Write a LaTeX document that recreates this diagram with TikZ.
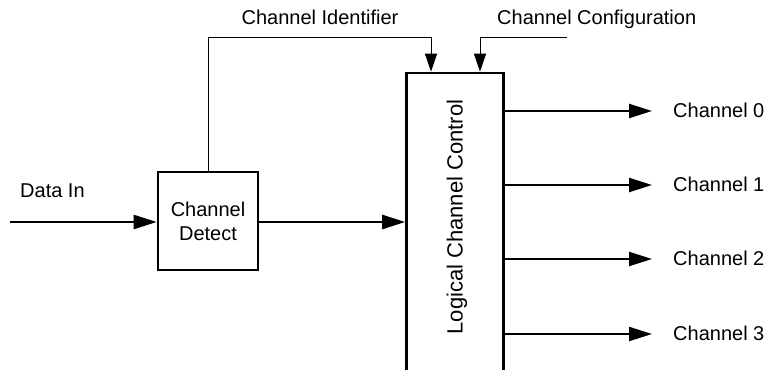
\documentclass[tikz,border=0pt]{standalone}
\usepackage{fontspec}
\setmainfont{Liberation Sans}
\usetikzlibrary{arrows.meta}
\begin{document}
\begin{tikzpicture}[x=1pt,y=-1pt,
  every node/.style={font=\fontsize{20}{24}\selectfont, inner sep=0pt},
  blockbox/.style={draw, line width=2.6pt, minimum width=#1, inner sep=0pt},
  mainarrow/.style={line width=2.3pt, -{Triangle[length=23pt,width=14pt]}},
  thinarrow/.style={line width=1pt, -{Triangle[length=18pt,width=12pt]}},
  lbl/.style={anchor=base west}]
\useasboundingbox (0,0) rectangle (775,369);
% blocks
\node[blockbox=100pt, minimum height=98pt, align=center] (det) at (208,221) {Channel\\Detect};
\node[blockbox=97pt, minimum height=320pt] (lcc) at (455,233) {};
\node[rotate=90, font=\fontsize{22}{26}\selectfont] (lcct) at (457,217) {Logical Channel Control};
% input
\coordinate (din) at (10,222);
\draw[mainarrow] (din) -- (det.west |- din);
\node[lbl] (dinl) at (20,197) {Data In};
\draw[mainarrow] (det.east |- din) -- (lcc.west |- din);
% top inputs
\coordinate (ci) at (431,38);
\coordinate (cc) at (567,38);
\coordinate (ccd) at (480,38);
\draw[thinarrow] (det.north) |- (ci) -- (ci |- lcc.north);
\draw[thinarrow] (cc) -- (ccd) -- (ccd |- lcc.north);
\node[anchor=base] (cil) at (320,25) {Channel Identifier};
\node[lbl] (ccl) at (497,25) {Channel Configuration};
% outputs
\foreach \i/\y in {0/111,1/185,2/259,3/334}{
  \coordinate (o\i) at (652,\y);
  \draw[mainarrow] (lcc.east |- o\i) -- (o\i);
  \node[lbl] (ol\i) at (673,\y+6.5) {Channel \i};
}
\end{tikzpicture}
\end{document}
